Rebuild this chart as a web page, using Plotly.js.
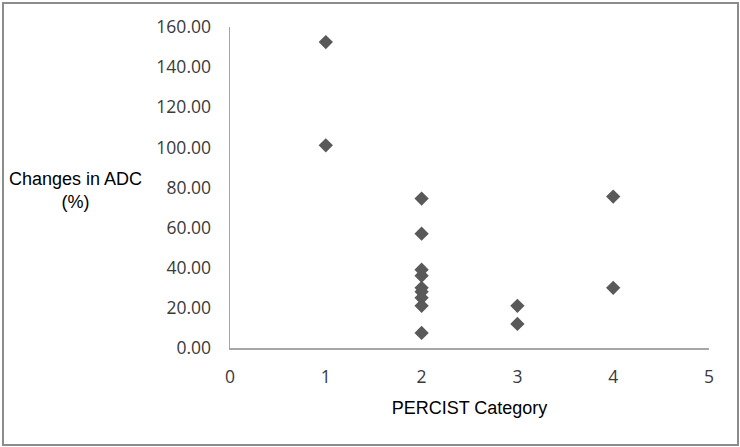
<!DOCTYPE html>
<html>
<head>
<meta charset="utf-8">
<script src="https://cdn.plot.ly/plotly-3.0.1.min.js"></script>
<style>
    html, body { margin: 0; padding: 0; background: #fff; }
    #chart { width: 740px; height: 447px; }
    #frame {
        position: fixed; left: 2px; top: 2px; width: 733px; height: 440px;
        border: 2px solid #8c8c8c; pointer-events: none;
    }
</style>
</head>
<body>
<div id="chart"></div>
<div id="frame"></div>
<script>

// PERCIST category vs. percent change in ADC, one entry per patient
let percistCategory = [1, 1, 2, 2, 2, 2, 2, 2, 2, 2, 2, 3, 3, 4, 4];
let adcChange = [152.5, 101.0, 74.5, 57.0, 39.0, 36.0, 30.0, 28.0, 25.0, 21.0, 7.5, 21.0, 12.0, 75.5, 30.0];

let xTicks = [0, 1, 2, 3, 4, 5];
let yTicks = [0, 20, 40, 60, 80, 100, 120, 140, 160];

let points = {
    x: percistCategory, y: adcChange,
    type: "scatter", mode: "markers",
    marker: {symbol: "diamond", size: 11, color: "#595959"},
    showlegend: false, hoverinfo: "x+y",
};

let tickFont = {family: "Open Sans, Lato, sans-serif", size: 17.5, color: "#3a3a3a"};

let layout = {
    width: 740, height: 447,
    margin: {l: 230, r: 31, t: 27, b: 99},
    paper_bgcolor: "#ffffff", plot_bgcolor: "#ffffff",
    font: {family: "Liberation Sans, Arial, sans-serif", color: "#000"},
    xaxis: {
        range: [0, 5], tickvals: xTicks, ticks: "",
        showgrid: false, zeroline: false,
        showline: true, linecolor: "#a6a6a6", linewidth: 1.5,
        tickfont: tickFont, ticklabelstandoff: 12,
        title: {text: "PERCIST Category", font: {size: 18}, standoff: 15},
        fixedrange: true,
    },
    yaxis: {
        range: [0, 160], tickvals: yTicks, tickformat: ".2f", ticks: "",
        showgrid: false, zeroline: false,
        showline: true, linecolor: "#a6a6a6", linewidth: 1.5,
        tickfont: tickFont, ticklabelstandoff: 14,
        fixedrange: true,
    },
    annotations: [{
        text: "Changes in ADC<br>(%)", showarrow: false,
        xref: "paper", yref: "paper", x: -0.323, y: 0.49,
        xanchor: "center", yanchor: "middle",
        font: {size: 18, color: "#000"},
    }],
};

Plotly.newPlot("chart", [points], layout, {displayModeBar: false, staticPlot: true});

</script>
</body>
</html>
